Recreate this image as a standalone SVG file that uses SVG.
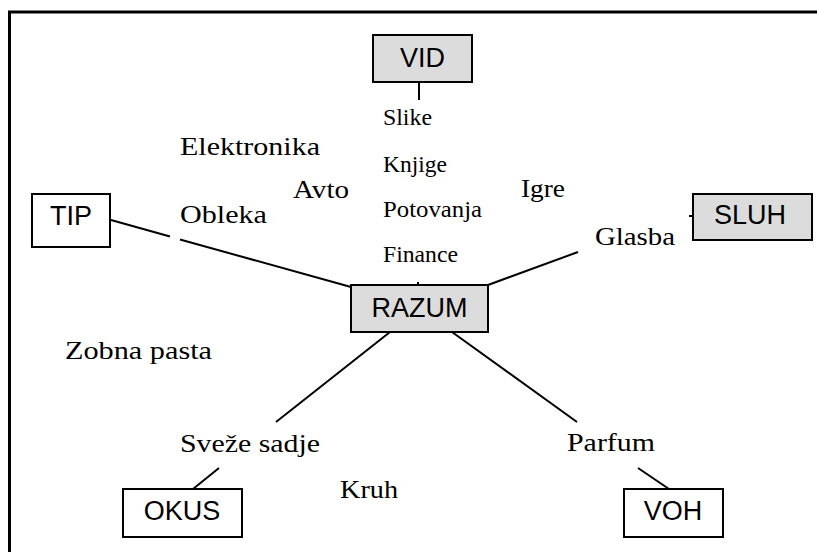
<svg xmlns="http://www.w3.org/2000/svg" width="817" height="552" viewBox="0 0 817 552">
<style>
.box{stroke:#000;stroke-width:2}
.g{fill:#dcdcdc}
.w{fill:#fff}
.lbl{font-family:"Liberation Sans",Arial,sans-serif;font-size:27px;fill:#000;text-anchor:middle}
.t{font-family:"Liberation Serif","Times New Roman",serif;font-size:26px;fill:#000}
.s{font-family:"Liberation Serif","Times New Roman",serif;font-size:22.5px;fill:#000}
.c{stroke:#000;stroke-width:2;fill:none}
</style>
<rect width="817" height="552" fill="#fff"/>
<path d="M9.5 552 V12 H817" fill="none" stroke="#000" stroke-width="3"/>
<g id="connectors">
<line class="c" x1="419" y1="82" x2="419" y2="100"/>
<line class="c" x1="418" y1="282" x2="418" y2="286"/>
<line class="c" x1="111" y1="220" x2="170" y2="236.5"/>
<line class="c" x1="180" y1="239.5" x2="351" y2="287"/>
<line class="c" x1="488" y1="285" x2="578" y2="252"/>
<line class="c" x1="689" y1="216" x2="693" y2="216"/>
<line class="c" x1="390" y1="332" x2="276" y2="422"/>
<line class="c" x1="219" y1="468" x2="193" y2="489"/>
<line class="c" x1="452" y1="332" x2="577" y2="422"/>
<line class="c" x1="638" y1="468" x2="669" y2="489"/>
</g>
<g id="VID"><rect class="box g" x="373" y="35" width="99" height="47"/><text class="lbl" x="422.5" y="67">VID</text></g>
<g id="TIP"><rect class="box w" x="32" y="194" width="78" height="53"/><text class="lbl" x="71" y="225">TIP</text></g>
<g id="SLUH"><rect class="box g" x="693" y="194" width="119" height="46"/><text class="lbl" x="750" y="224">SLUH</text></g>
<g id="RAZUM"><rect class="box g" x="351" y="285" width="137" height="47"/><text class="lbl" x="419.5" y="317">RAZUM</text></g>
<g id="OKUS"><rect class="box w" x="123" y="489" width="119" height="48"/><text class="lbl" x="182" y="520">OKUS</text></g>
<g id="VOH"><rect class="box w" x="624" y="489" width="99" height="48"/><text class="lbl" x="673" y="520">VOH</text></g>
<g id="words">
<text class="s" x="383" y="125" textLength="49" lengthAdjust="spacingAndGlyphs">Slike</text>
<text class="s" x="383" y="172" textLength="64" lengthAdjust="spacingAndGlyphs">Knjige</text>
<text class="s" x="383" y="217" textLength="99" lengthAdjust="spacingAndGlyphs">Potovanja</text>
<text class="s" x="383" y="262" textLength="75" lengthAdjust="spacingAndGlyphs">Finance</text>
<text class="t" x="180" y="155" textLength="140" lengthAdjust="spacingAndGlyphs">Elektronika</text>
<text class="t" x="293" y="198" textLength="56" lengthAdjust="spacingAndGlyphs">Avto</text>
<text class="t" x="180" y="223" textLength="87" lengthAdjust="spacingAndGlyphs">Obleka</text>
<text class="t" x="521" y="197" textLength="44" lengthAdjust="spacingAndGlyphs">Igre</text>
<text class="t" x="595" y="245" textLength="80" lengthAdjust="spacingAndGlyphs">Glasba</text>
<text class="t" x="65" y="359" textLength="147" lengthAdjust="spacingAndGlyphs">Zobna pasta</text>
<text class="t" x="180" y="452" textLength="140" lengthAdjust="spacingAndGlyphs">Sveže sadje</text>
<text class="t" x="340" y="498" textLength="58" lengthAdjust="spacingAndGlyphs">Kruh</text>
<text class="t" x="567" y="451" textLength="88" lengthAdjust="spacingAndGlyphs">Parfum</text>
</g>
</svg>
